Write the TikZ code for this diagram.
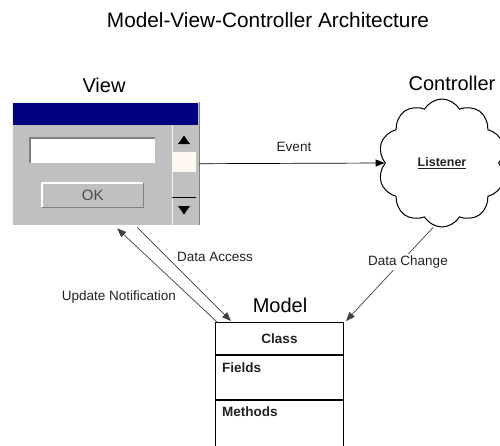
\documentclass[tikz,border=0pt]{standalone}
\usepackage{fontspec}
\setmainfont{Liberation Sans}
\usetikzlibrary{arrows.meta,positioning,calc,shapes.symbols}
\definecolor{winGray}{HTML}{C0C0C0}
\definecolor{titleBlue}{HTML}{000080}
\definecolor{edgeDark}{HTML}{808080}
\definecolor{scrollIvory}{HTML}{FFF8EE}
\definecolor{txtGray}{HTML}{222222}

\begin{document}
\begin{tikzpicture}[x=1pt, y=-1pt,
  bigtxt/.style={font=\fontsize{20}{24}\selectfont},
  smalltxt/.style={font=\fontsize{13.5}{16}\selectfont, text=txtGray, fill=white, inner sep=1.5pt},
  boldtxt/.style={font=\fontsize{13.5}{16}\selectfont\bfseries, text=txtGray, inner sep=0pt},
  arr/.style={-{Triangle[length=9pt,width=7pt]}, black!75, line width=0.7pt},
  part/.style={draw, line width=1pt, minimum width=128pt, inner sep=0pt, anchor=north west}]
\useasboundingbox (0,0) rectangle (500,445);

\node[bigtxt, font=\fontsize{20.8}{24}\selectfont] (title) at (268,20) {Model-View-Controller Architecture};
\node[bigtxt] (vlbl) at (104,85) {View};
\node[bigtxt] (clbl) at (452,83) {Controller};
\node[bigtxt] (mlbl) at (280,305) {Model};

% the view window
\node[fill=winGray, minimum width=187pt, minimum height=123pt, inner sep=0pt, anchor=north west] (view) at (12,102) {};
\draw[white!85!winGray, line width=1pt] (view.south west) -- (view.north west) -- (view.north east);
\draw[edgeDark, line width=1.5pt] (view.north east) -- (view.south east);
\fill[titleBlue] (13,102.5) rectangle (198,125);
\node[fill=white, minimum width=125pt, minimum height=25pt, inner sep=0pt, anchor=north west] (field) at (30,138) {};
\draw[edgeDark, line width=1.2pt] (field.south west) -- (field.north west) -- (field.north east);
\node[fill=winGray, minimum width=101pt, minimum height=24pt, inner sep=0pt, anchor=north west,
  font=\fontsize{15}{18}\selectfont, text=black!70] (okbtn) at (42,183) {OK};
\draw[white, line width=1.2pt] (okbtn.south west) -- (okbtn.north west) -- (okbtn.north east);
\draw[edgeDark, line width=1.2pt] (okbtn.north east) -- (okbtn.south east) -- (okbtn.south west);
\node[fill=winGray, minimum width=24pt, minimum height=100pt, inner sep=0pt, anchor=north west] (scroll) at (172,125) {};
\draw[white!85!winGray, line width=0.8pt] (scroll.north west) -- (scroll.south west);
\fill[scrollIvory] (172.5,152) rectangle (196,172);
\draw[black, line width=0.8pt] (172,197) -- (196,197);
\fill[black] (178,144) -- (190,144) -- (184,135.5) -- cycle;
\fill[black] (178,206) -- (190,206) -- (184,214.5) -- cycle;

% the controller
\node[cloud, draw, line width=1pt, cloud puffs=10, cloud puff arc=120, aspect=1,
  minimum width=128pt, minimum height=128pt, inner sep=0pt,
  font=\fontsize{12.5}{14}\selectfont\bfseries, text=txtGray] (ctrl) at (442,163) {\underline{Listener}};

% the model
\node[part, minimum height=32pt] (mcls) at (215,322) {};
\node[part, minimum height=44pt] (mfld) at (mcls.south west) {};
\node[part, minimum height=52pt] (mmth) at (mfld.south west) {};
\node[boldtxt] (clstxt) at (mcls.center) {Class};
\node[boldtxt, anchor=west] (fldtxt) at (222,368) {Fields};
\node[boldtxt, anchor=west] (mthtxt) at (222,412) {Methods};

% connectors
\draw[arr, black] (view.east) -- (ctrl.west);
\draw[arr] ([xshift=31.5pt,yshift=-2pt]view.south) -- ([xshift=16pt,yshift=1pt]mcls.north west);
\draw[arr] ([xshift=2pt]mcls.north west) -- ([xshift=11.5pt,yshift=-3pt]view.south);
\draw[arr] ([xshift=-9pt]ctrl.south) -- ([xshift=2pt,yshift=1pt]mcls.north east);

\node[smalltxt] (evtlbl) at (294,147) {Event};
\node[smalltxt] (dalbl) at (215,257) {Data Access};
\node[smalltxt] (unlbl) at (119,297) {Update Notification};
\node[smalltxt] (dclbl) at (408,262) {Data Change};
\end{tikzpicture}
\end{document}
